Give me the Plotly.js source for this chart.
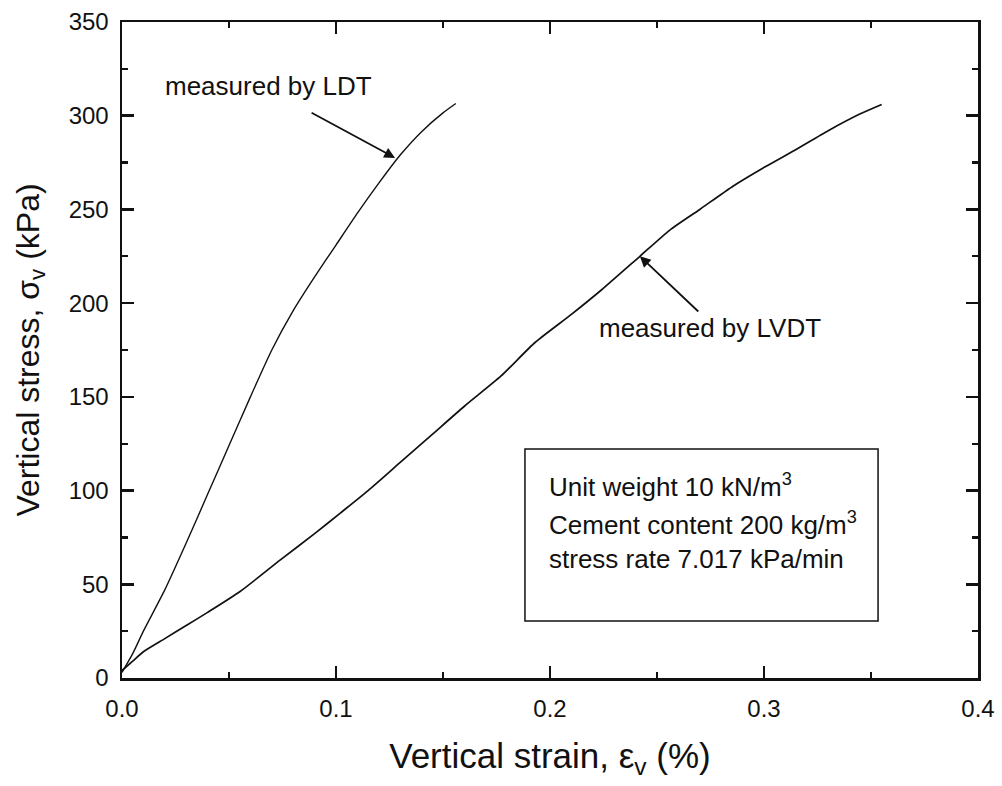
<!DOCTYPE html>
<html>
<head>
<meta charset="utf-8">
<script src="https://cdn.plot.ly/plotly-3.0.1.min.js"></script>
<style>html,body{margin:0;padding:0;background:#fff;}#chart{width:1002px;height:786px;}</style>
</head>
<body>
<div id="chart"></div>
<script>
// LDT-measured curve
const ldtStrain = [0, 0.005, 0.01, 0.02, 0.03, 0.04, 0.05, 0.06, 0.07, 0.08, 0.09, 0.1, 0.11, 0.12, 0.13, 0.14, 0.15, 0.156];
const ldtStress = [3, 13, 25, 47, 72, 98, 124, 150, 175, 196, 214, 231, 248, 264, 279, 291.5, 301.5, 306.5];
// LVDT-measured curve
const lvdtStrain = [0, 0.005, 0.01, 0.02, 0.03, 0.04, 0.055, 0.074, 0.09, 0.102, 0.115, 0.13, 0.145, 0.16, 0.177, 0.193, 0.21, 0.224, 0.242, 0.256, 0.27, 0.285, 0.301, 0.315, 0.33, 0.345, 0.355];
const lvdtStress = [4, 9, 14, 21, 28, 35, 46, 63, 77, 88, 100, 115, 130, 145, 161, 179, 194, 207, 225, 239, 250, 262, 273, 282, 292, 301, 306];

const xTickVals = [0, 0.1, 0.2, 0.3, 0.4];
const xTickText = ["0.0", "0.1", "0.2", "0.3", "0.4"];
const yTickVals = [0, 50, 100, 150, 200, 250, 300, 350];

const infoLines = ["Unit weight 10 kN/m<sup>3</sup>", "Cement content 200 kg/m<sup>3</sup>", "stress rate 7.017 kPa/min"];
const infoY = [102.5, 82.7, 63.5];

const FONT = "Arial, 'Liberation Sans', sans-serif";

const traces = [
  {x: ldtStrain, y: ldtStress, mode: 'lines', line: {color: '#111', width: 1.4, shape: 'spline', smoothing: 0.6}, name: 'LDT', showlegend: false},
  {x: lvdtStrain, y: lvdtStress, mode: 'lines', line: {color: '#111', width: 1.7, shape: 'spline', smoothing: 0.6}, name: 'LVDT', showlegend: false}
];

const annotations = [
  {x: 0.1276, y: 277.5, ax: 0.0879, ay: 302, axref: 'x', ayref: 'y', xref: 'x', yref: 'y',
   text: '', showarrow: true, arrowhead: 2, arrowsize: 1.2, arrowwidth: 1.8, arrowcolor: '#111'},
  {x: 0.0685, y: 316, xref: 'x', yref: 'y', text: 'measured by LDT', showarrow: false,
   font: {family: FONT, size: 26, color: '#111'}},
  {x: 0.242, y: 225, ax: 0.270, ay: 194.8, axref: 'x', ayref: 'y', xref: 'x', yref: 'y',
   text: '', showarrow: true, arrowhead: 2, arrowsize: 1.2, arrowwidth: 1.8, arrowcolor: '#111'},
  {x: 0.2749, y: 187, xref: 'x', yref: 'y', text: 'measured by LVDT', showarrow: false,
   font: {family: FONT, size: 26, color: '#111'}}
];
infoLines.forEach((t, i) => {
  annotations.push({x: 0.1986, y: infoY[i], xref: 'x', yref: 'y', xanchor: 'left', yanchor: 'middle',
    text: t, showarrow: false, font: {family: FONT, size: 26, color: '#111'}});
});

const layout = {
  width: 1002, height: 786,
  margin: {l: 122, r: 24, t: 22, b: 108},
  paper_bgcolor: '#fff', plot_bgcolor: '#fff',
  font: {family: FONT, size: 24, color: '#111'},
  xaxis: {
    range: [0, 0.4], tickvals: xTickVals, ticktext: xTickText,
    ticks: 'inside', ticklen: 12, tickwidth: 2.5, tickcolor: '#111',
    minor: {dtick: 0.05, ticks: 'inside', ticklen: 6, tickwidth: 2.2, tickcolor: '#111', showgrid: false},
    showline: true, linewidth: 2.5, linecolor: '#111', mirror: 'ticks',
    showgrid: false, zeroline: false, ticklabelstandoff: 8,
    tickfont: {family: FONT, size: 24, color: '#111'},
    title: {text: 'Vertical strain, ε<sub>v</sub> (%)', font: {family: FONT, size: 35, color: '#111'}, standoff: 22}
  },
  yaxis: {
    range: [0, 350], tickvals: yTickVals,
    ticks: 'inside', ticklen: 12, tickwidth: 2.5, tickcolor: '#111',
    minor: {dtick: 25, ticks: 'inside', ticklen: 6, tickwidth: 2.2, tickcolor: '#111', showgrid: false},
    showline: true, linewidth: 2.5, linecolor: '#111', mirror: 'ticks',
    showgrid: false, zeroline: false, ticklabelstandoff: 6,
    tickfont: {family: FONT, size: 24, color: '#111'},
    title: {text: 'Vertical stress, σ<sub>v</sub> (kPa)', font: {family: FONT, size: 32, color: '#111'}, standoff: 20}
  },
  shapes: [
    {type: 'rect', xref: 'x', yref: 'y', x0: 0.1883, x1: 0.3533, y0: 30.4, y1: 122.2,
     line: {color: '#111', width: 1.5}, fillcolor: 'rgba(0,0,0,0)'}
  ],
  annotations: annotations,
  showlegend: false
};

Plotly.newPlot('chart', traces, layout, {displayModeBar: false, staticPlot: true});
</script>
</body>
</html>
